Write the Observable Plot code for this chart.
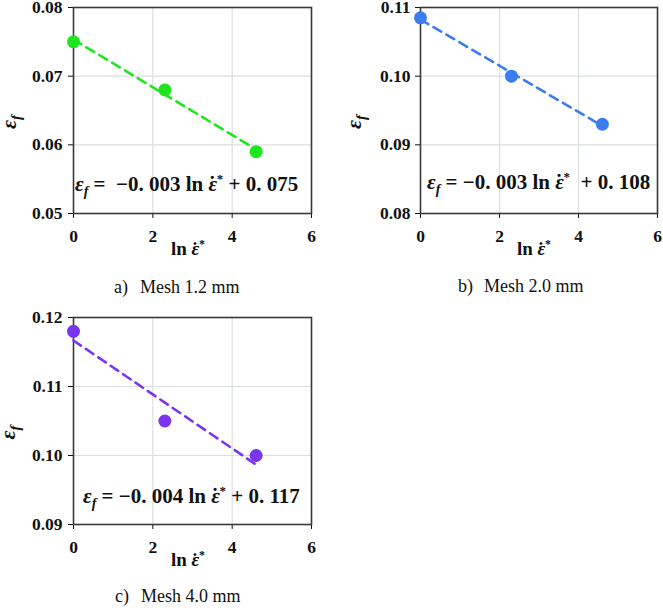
<!DOCTYPE html>
<html>
<head>
<meta charset="utf-8">
<script src="https://cdn.jsdelivr.net/npm/d3@7"></script>
<script src="https://cdn.jsdelivr.net/npm/@observablehq/plot@0.6"></script>
<style>
  html, body { margin: 0; padding: 0; background: #fff; }
  #wrap { position: relative; width: 663px; height: 608px; overflow: hidden; }
  #wrap svg { position: absolute; overflow: visible; }
</style>
</head>
<body>
<div id="wrap"></div>
<script>
// ---- data ----
const lnRate = [0, 2.303, 4.605];
const epsA = [0.075, 0.068, 0.059];
const epsB = [0.1085, 0.100, 0.093];
const epsC = [0.118, 0.105, 0.100];
const xTicks = [0, 2, 4, 6];
const yTicksA = [0.05, 0.06, 0.07, 0.08];
const yTicksB = [0.08, 0.09, 0.10, 0.11];
const yTicksC = [0.09, 0.10, 0.11, 0.12];
const slopes = ["0. 003", "0. 003", "0. 004"];
const intercepts = ["0. 075", "0. 108", "0. 117"];
const captionLetters = ["a)", "b)", "c)"];
const captionTexts = ["Mesh 1.2 mm", "Mesh 2.0 mm", "Mesh 4.0 mm"];
const colors = ["#1ee61e", "#3b7df0", "#7b35f0"];

const serif = "'Liberation Serif', 'Times New Roman', serif";

// epsilon with a dot above, built from tspans
function epsDot(sel, size, italic) {
  sel.append("tspan").attr("font-style", italic ? "italic" : null).text("ε");
  sel.append("tspan").attr("dx", (-0.40 * size).toFixed(2)).text("\u02D9");
  sel.append("tspan").attr("dx", (0.05 * size).toFixed(2)).attr("font-size", Math.round(size * 0.62)).attr("dy", (-0.38 * size).toFixed(2)).text("*");
}

function panel(cfg) {
  const data = lnRate.map((x, i) => ({x, y: cfg.eps[i]}));
  const plot = Plot.plot({
    width: cfg.width,
    height: cfg.height,
    marginLeft: cfg.ml, marginRight: cfg.mr, marginTop: cfg.mt, marginBottom: cfg.mb,
    style: {fontFamily: serif, fontSize: "17.5px", fontWeight: "bold", color: "#111", background: "transparent", overflow: "visible"},
    x: {domain: [0, 6], ticks: xTicks, tickSize: 5, tickPadding: 11, tickFormat: d => String(d), label: null},
    y: {domain: cfg.yDomain, ticks: cfg.yTicks, tickSize: 5, tickPadding: cfg.ytp, tickFormat: d3.format(".2f"), label: null},
    marks: [
      Plot.ruleX(xTicks.slice(1, -1), {stroke: "#dadfe4", strokeWidth: 1.2}),
      Plot.ruleY(cfg.yTicks.slice(1, -1), {stroke: "#dadfe4", strokeWidth: 1.2}),
      Plot.frame({stroke: "#383838", strokeWidth: 1.6}),
      Plot.linearRegressionY(data, {x: "x", y: "y", ci: 0, stroke: cfg.color, strokeWidth: 2.6, strokeDasharray: "9,6"}),
      Plot.dot(data, {x: "x", y: "y", r: 6.5, fill: cfg.color, stroke: "none"})
    ]
  });
  plot.style.left = cfg.left + "px";
  plot.style.top = cfg.top + "px";
  const svg = d3.select(plot);
  // tick labels: bold serif
  svg.selectAll("text")
    .style("font-family", serif).style("font-size", "17.5px").style("font-weight", "bold").attr("fill", "#111");

  const fL = cfg.ml, fR = cfg.width - cfg.mr, fT = cfg.mt, fB = cfg.height - cfg.mb;

  // y label: epsilon_f, rotated
  const yl = svg.append("text")
    .attr("transform", `translate(${cfg.ylx},${(fT + fB) / 2 + 12}) rotate(-90)`)
    .attr("text-anchor", "middle")
    .style("font-family", serif).style("font-size", "22px").style("font-weight", "bold").style("font-style", "italic")
    .attr("fill", "#111");
  yl.append("tspan").text("ε");
  yl.append("tspan").style("font-size", "15px").attr("dy", 5).text("f");

  // x label: ln ε̇*
  const xl = svg.append("text")
    .attr("x", fL + cfg.xlx).attr("y", fB + cfg.xly)
    .attr("text-anchor", "start")
    .style("font-family", serif).style("font-size", "19px").style("font-weight", "bold")
    .attr("fill", "#111");
  xl.append("tspan").text("ln ");
  epsDot(xl, 19, true);

  // equation
  const eq = svg.append("text")
    .attr("x", fL + cfg.eqx).attr("y", fB - cfg.eqy)
    .attr("text-anchor", "start")
    .style("font-family", serif).style("font-size", "21px").style("font-weight", "bold")
    .style("white-space", "pre")
    .attr("fill", "#111");
  eq.append("tspan").attr("font-style", "italic").text("ε");
  eq.append("tspan").attr("font-style", "italic").attr("font-size", 14).attr("dy", 5).text("f");
  eq.append("tspan").attr("dy", -5).text(cfg.eqMid);
  epsDot(eq, 21, true);
  eq.append("tspan").attr("dy", (0.38 * 21).toFixed(2)).text(cfg.eqEnd);

  // caption
  const cap = svg.append("text")
    .attr("y", cfg.capy)
    .attr("text-anchor", "start")
    .style("font-family", serif).style("font-size", "18px").style("font-weight", "normal")
    .attr("fill", "#111");
  cap.append("tspan").attr("x", cfg.capx).text(cfg.capLetter);
  cap.append("tspan").attr("x", cfg.capx + 26).text(cfg.capText);

  document.getElementById("wrap").appendChild(plot);
}

panel({eps: epsA, yDomain: [0.05, 0.08], yTicks: yTicksA, color: colors[0],
  width: 330, height: 300, ml: 73, mr: 19, mt: 7, mb: 87, left: 0, top: 0, ytp: 6,
  ylx: 16, xlx: 98, xly: 42, eqx: 2, eqy: 22,
  eqMid: " =  \u2212" + slopes[0] + " ln ", eqEnd: " + " + intercepts[0],
  capx: 114, capy: 293, capLetter: captionLetters[0], capText: captionTexts[0]});

panel({eps: epsB, yDomain: [0.08, 0.11], yTicks: yTicksB, color: colors[1],
  width: 333, height: 300, ml: 90, mr: 6, mt: 7, mb: 87, left: 330, top: 0, ytp: 5,
  ylx: 31, xlx: 97, xly: 42, eqx: 7, eqy: 24,
  eqMid: " = \u2212" + slopes[1] + " ln ", eqEnd: "  + " + intercepts[1],
  capx: 128, capy: 292, capLetter: captionLetters[1], capText: captionTexts[1]});

panel({eps: epsC, yDomain: [0.09, 0.12], yTicks: yTicksC, color: colors[2],
  width: 330, height: 308, ml: 73, mr: 19, mt: 17, mb: 84, left: 0, top: 300, ytp: 6,
  ylx: 15, xlx: 98, xly: 42, eqx: 10, eqy: 21,
  eqMid: " = \u2212" + slopes[2] + " ln ", eqEnd: " + " + intercepts[2],
  capx: 115, capy: 302, capLetter: captionLetters[2], capText: captionTexts[2]});
</script>
</body>
</html>
